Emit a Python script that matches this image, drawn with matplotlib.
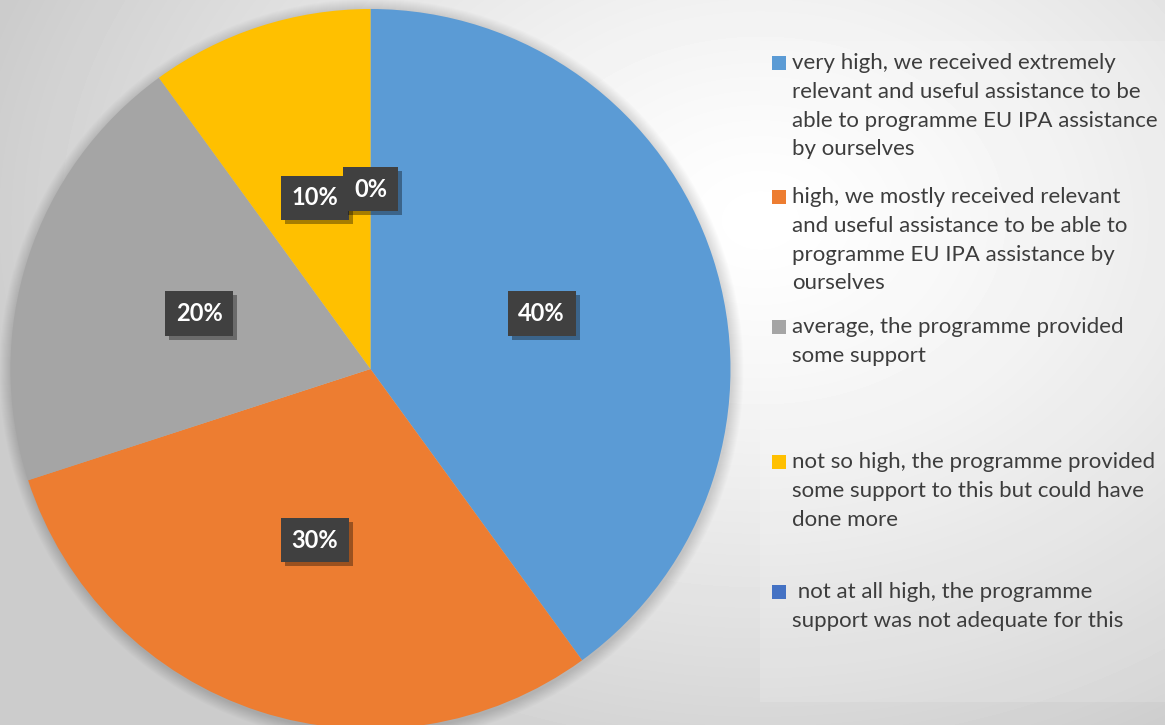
import matplotlib
matplotlib.use('Agg')
import matplotlib.pyplot as plt
import matplotlib.patheffects as pe
from matplotlib.patches import Rectangle
import numpy as np

plt.rcParams['font.family'] = ['Lato', 'DejaVu Sans']

# ── data ──────────────────────────────────────────────────────────────────────
categories = [
    'very high, we received extremely\nrelevant and useful assistance to be\nable to programme EU IPA assistance\nby ourselves',
    'high, we mostly received relevant\nand useful assistance to be able to\nprogramme EU IPA assistance by\nourselves',
    'average, the programme provided\nsome support',
    'not so high, the programme provided\nsome support to this but could have\ndone more',
    ' not at all high, the programme\nsupport was not adequate for this',
]
shares = [40, 30, 20, 10, 0]
colors = ['#5B9BD5', '#ED7D31', '#A5A5A5', '#FFC000', '#4472C4']

W, H = 1165, 725
fig = plt.figure(figsize=(W / 100, H / 100), dpi=100)

# background: soft radial grey gradient
bg = fig.add_axes([0, 0, 1, 1])
yy, xx = np.mgrid[0:H, 0:W]
d = np.sqrt(((xx - 760) / 1.0) ** 2 + ((yy - 220) / 0.75) ** 2)
shade = np.clip(1.0 - 0.20 * (d / 800) ** 1.3, 0.80, 1.0)
bg.imshow(shade, cmap='gray', vmin=0, vmax=1, extent=[0, W, H, 0], aspect='auto')
bg.axis('off')

ax = fig.add_axes([0, 0, 1, 1])
ax.patch.set_alpha(0)

cx, cy, R = 370.5, H - 369, 360

# soft halo under the pie
for k in range(1, 13):
    ax.add_patch(plt.Circle((cx + 1, cy - 2), R + k, color='black', alpha=0.012,
                            lw=0, zorder=0))

wedges, texts, autotexts = ax.pie(
    shares, colors=colors, startangle=90, counterclock=False,
    center=(cx, cy), radius=R, autopct='%1.0f%%', pctdistance=0.5,
    wedgeprops=dict(linewidth=0),
    textprops=dict(color='white', fontsize=17, fontweight='bold'))

for t in autotexts:
    t.set_bbox(dict(boxstyle='square,pad=0.45', fc='#404040', ec='none'))
    t.get_bbox_patch().set_path_effects(
        [pe.withSimplePatchShadow(offset=(3, -3), shadow_rgbFace='black', alpha=0.35)])
    t.set_zorder(5)

ax.set_xlim(0, W)
ax.set_ylim(0, H)
ax.set_aspect('auto')
ax.axis('off')

# legend area
ax.add_patch(Rectangle((760, H - 702), W - 760, 702 - 41, fc='white', alpha=0.15,
                       ec='none', zorder=1))

entry_y = [63, 197, 327, 462, 592]
for lab, col, y in zip(categories, colors, entry_y):
    ax.add_patch(Rectangle((772, H - y - 7), 14, 14, fc=col, ec='none', zorder=3))
    ax.text(792, H - y + 10, lab, ha='left', va='top', fontsize=16,
            color='#3d3d3d', linespacing=1.55, zorder=3)

plt.savefig('out.png', dpi=100)
